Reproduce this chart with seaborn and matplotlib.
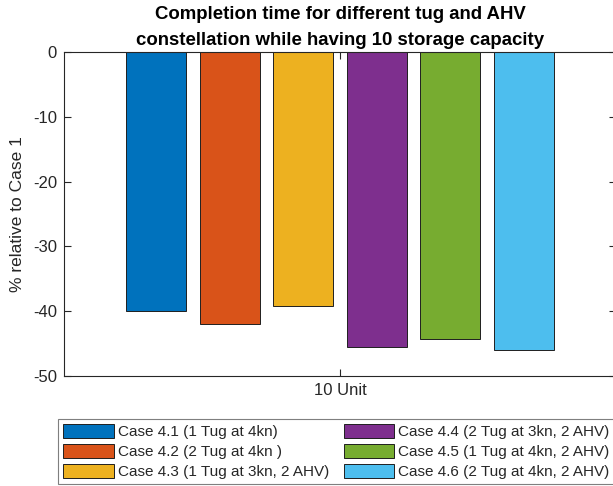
import matplotlib
matplotlib.use("Agg")
import matplotlib.pyplot as plt
import seaborn as sns
import pandas as pd

# Data
groups = ["10 Unit"] * 6
cases = [
    "Case 4.1 (1 Tug at 4kn)",
    "Case 4.2 (2 Tug at 4kn )",
    "Case 4.3 (1 Tug at 3kn, 2 AHV)",
    "Case 4.4 (2 Tug at 3kn, 2 AHV)",
    "Case 4.5 (1 Tug at 4kn, 2 AHV)",
    "Case 4.6 (2 Tug at 4kn, 2 AHV)",
]
values = [-39.9, -41.9, -39.2, -45.6, -44.3, -46.0]
colors = ["#0072BD", "#D95319", "#EDB120", "#7E2F8E", "#77AC30", "#4DBEEE"]
yticks = [0, -10, -20, -30, -40, -50]

df = pd.DataFrame({"group": groups, "case": cases, "value": values})

sns.set_theme(style="white")
plt.rcParams["font.family"] = ["Liberation Sans", "DejaVu Sans"]
plt.rcParams["axes.unicode_minus"] = True

W, H = 613, 486
fig = plt.figure(figsize=(W / 100, H / 100), dpi=100)
ax = fig.add_axes([64 / W, 1 - 376 / H, 552 / W, 324 / H])

sns.barplot(
    data=df, x="group", y="value", hue="case", hue_order=cases,
    palette=dict(zip(cases, colors)), saturation=1, gap=0.186,
    edgecolor="#1f1f1f", linewidth=0.7, ax=ax, legend=True,
)

ax.set_ylim(-50, 0)
ax.set_xlim(-0.5, 0.5)
ax.set_yticks(yticks)
ax.set_yticklabels([str(t) for t in yticks])
ax.set_xlabel("")
ax.set_ylabel("% relative to Case 1", fontsize=12.5, color="#262626", labelpad=6)
title = ax.set_title("Completion time for different tug and AHV\nconstellation while having 10 storage capacity",
                     fontsize=13.4, fontweight="bold", color="black", pad=4.8)
title.set_linespacing(1.72)

for s in ax.spines.values():
    s.set_visible(True)
    s.set_color("#262626")
    s.set_linewidth(0.8)

ax.tick_params(axis="both", which="both", direction="in", length=5, width=0.8,
               top=True, right=True, left=True, bottom=True,
               labelsize=12, labelcolor="#262626", color="#262626", pad=5)

handles, labels = ax.get_legend_handles_labels()
ax.get_legend().remove()
leg = fig.legend(
    handles, labels, ncols=2, loc="upper left",
    bbox_to_anchor=(58 / W, 1 - 419 / H), borderaxespad=0, fontsize=11,
    frameon=True, fancybox=False, edgecolor="#7f7f7f", framealpha=1,
    handlelength=3.33, handleheight=1.0, handletextpad=0.25,
    labelspacing=0.31, borderpad=0.35, columnspacing=0.93,
)
leg.get_frame().set_linewidth(0.8)

fig.savefig("out.png", dpi=100)
